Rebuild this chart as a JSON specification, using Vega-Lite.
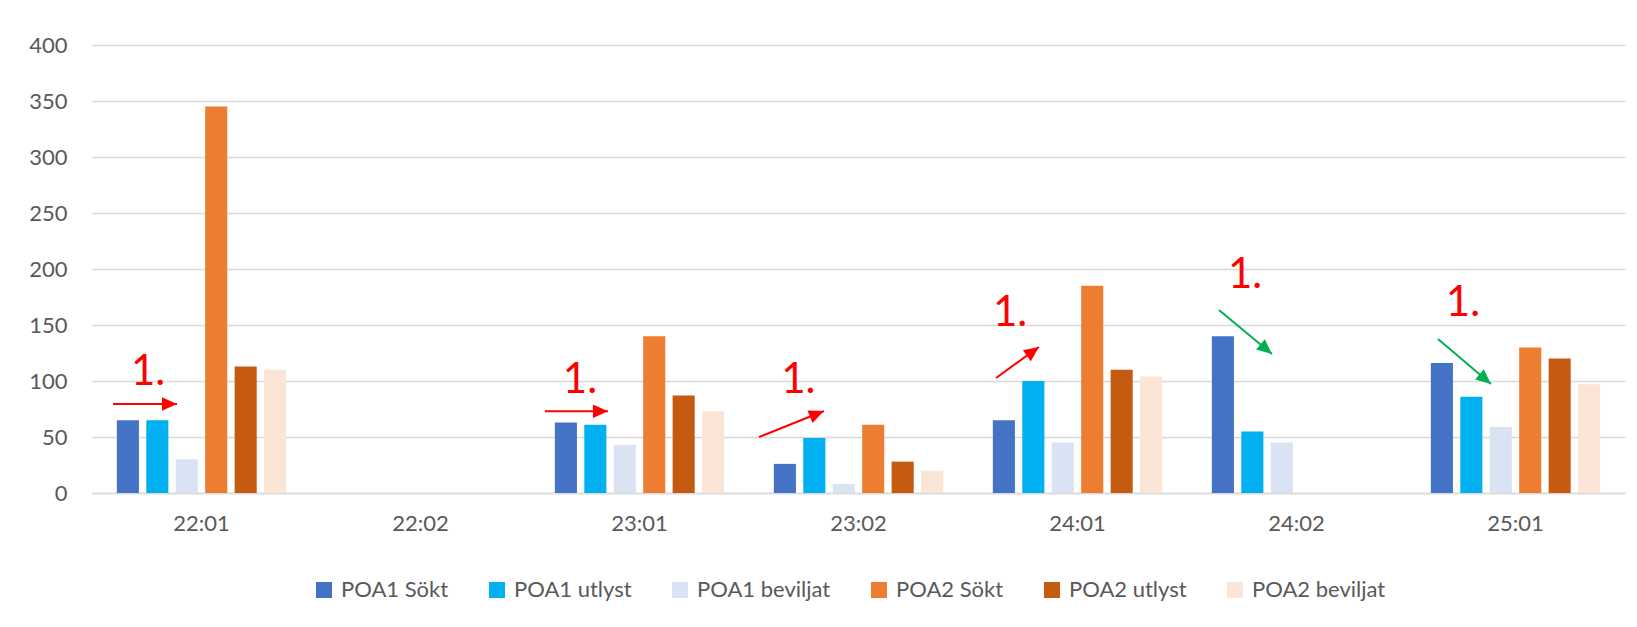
{
  "$schema": "https://vega.github.io/schema/vega-lite/v6.json",
  "width": 1533,
  "height": 448,
  "autosize": {"type": "none"},
  "padding": {"left": 92, "top": 45, "right": 12, "bottom": 134},
  "background": "white",
  "config": {
    "view": {"stroke": null},
    "font": "Lato",
    "axis": {"labelFont": "Lato", "labelFontSize": 22, "labelColor": "#595959", "titleFont": "Lato"},
    "legend": {"labelFont": "Lato"}
  },
  "datasets": {
    "bars": [
      {"period": "22:01", "series": "POA1 Sökt", "value": 65},
      {"period": "22:01", "series": "POA1 utlyst", "value": 65},
      {"period": "22:01", "series": "POA1 beviljat", "value": 30},
      {"period": "22:01", "series": "POA2 Sökt", "value": 345},
      {"period": "22:01", "series": "POA2 utlyst", "value": 113},
      {"period": "22:01", "series": "POA2 beviljat", "value": 110},
      {"period": "23:01", "series": "POA1 Sökt", "value": 63},
      {"period": "23:01", "series": "POA1 utlyst", "value": 61},
      {"period": "23:01", "series": "POA1 beviljat", "value": 43},
      {"period": "23:01", "series": "POA2 Sökt", "value": 140},
      {"period": "23:01", "series": "POA2 utlyst", "value": 87},
      {"period": "23:01", "series": "POA2 beviljat", "value": 73},
      {"period": "23:02", "series": "POA1 Sökt", "value": 26},
      {"period": "23:02", "series": "POA1 utlyst", "value": 49},
      {"period": "23:02", "series": "POA1 beviljat", "value": 8},
      {"period": "23:02", "series": "POA2 Sökt", "value": 61},
      {"period": "23:02", "series": "POA2 utlyst", "value": 28},
      {"period": "23:02", "series": "POA2 beviljat", "value": 20},
      {"period": "24:01", "series": "POA1 Sökt", "value": 65},
      {"period": "24:01", "series": "POA1 utlyst", "value": 100},
      {"period": "24:01", "series": "POA1 beviljat", "value": 45},
      {"period": "24:01", "series": "POA2 Sökt", "value": 185},
      {"period": "24:01", "series": "POA2 utlyst", "value": 110},
      {"period": "24:01", "series": "POA2 beviljat", "value": 104},
      {"period": "24:02", "series": "POA1 Sökt", "value": 140},
      {"period": "24:02", "series": "POA1 utlyst", "value": 55},
      {"period": "24:02", "series": "POA1 beviljat", "value": 45},
      {"period": "25:01", "series": "POA1 Sökt", "value": 116},
      {"period": "25:01", "series": "POA1 utlyst", "value": 86},
      {"period": "25:01", "series": "POA1 beviljat", "value": 59},
      {"period": "25:01", "series": "POA2 Sökt", "value": 130},
      {"period": "25:01", "series": "POA2 utlyst", "value": 120},
      {"period": "25:01", "series": "POA2 beviljat", "value": 97}
    ],
    "notes": [
      {"pos": 0.256, "level": 108, "label": "1."},
      {"pos": 2.228, "level": 101, "label": "1."},
      {"pos": 3.225, "level": 101, "label": "1."},
      {"pos": 4.192, "level": 161, "label": "1."},
      {"pos": 5.265, "level": 195, "label": "1."},
      {"pos": 6.26, "level": 170, "label": "1."}
    ],
    "arrows": [
      {"from": 0.096, "to": 0.388, "start": 79.5, "end": 79.5, "trend": "ökning", "angle": 90},
      {"from": 2.068, "to": 2.356, "start": 73, "end": 73, "trend": "ökning", "angle": 90},
      {"from": 3.046, "to": 3.342, "start": 50, "end": 73.2, "trend": "ökning", "angle": 68},
      {"from": 4.128, "to": 4.324, "start": 102.7, "end": 130.4, "trend": "ökning", "angle": 54},
      {"from": 5.146, "to": 5.388, "start": 163.4, "end": 124.1, "trend": "minskning", "angle": 130},
      {"from": 6.146, "to": 6.388, "start": 137.5, "end": 97.3, "trend": "minskning", "angle": 130}
    ]
  },
  "layer": [
    {
      "data": {"name": "bars"},
      "mark": {"type": "bar"},
      "encoding": {
        "x": {
          "field": "period", "type": "nominal",
          "scale": {"domain": ["22:01", "22:02", "23:01", "23:02", "24:01", "24:02", "25:01"], "paddingInner": 0.2, "paddingOuter": 0.1},
          "axis": {"title": null, "labelAngle": 0, "ticks": false, "domain": true, "domainColor": "#D9D9D9", "domainWidth": 1.5, "labelPadding": 20, "grid": false}
        },
        "xOffset": {
          "field": "series", "type": "nominal",
          "scale": {"domain": ["POA1 Sökt", "POA1 utlyst", "POA1 beviljat", "POA2 Sökt", "POA2 utlyst", "POA2 beviljat"], "paddingInner": 0.25, "paddingOuter": 0.1}
        },
        "y": {
          "field": "value", "type": "quantitative",
          "scale": {"domain": [0, 400], "nice": false},
          "axis": {"title": null, "values": [0, 50, 100, 150, 200, 250, 300, 350, 400], "domain": false, "ticks": false, "grid": true, "gridColor": "#D9D9D9", "gridWidth": 1.5, "labelPadding": 25}
        },
        "color": {
          "field": "series", "type": "nominal",
          "scale": {
            "domain": ["POA1 Sökt", "POA1 utlyst", "POA1 beviljat", "POA2 Sökt", "POA2 utlyst", "POA2 beviljat"],
            "range": ["#4472C4", "#00B0F0", "#DAE3F3", "#ED7D31", "#C55A11", "#FBE5D6"]
          },
          "legend": {
            "title": null, "orient": "none", "legendX": 221, "legendY": 534, "direction": "horizontal",
            "symbolType": "square", "symbolSize": 256, "symbolStrokeWidth": 0, "labelFontSize": 22,
            "labelColor": "#595959", "labelOffset": 6, "columnPadding": 37, "padding": 0, "labelLimit": 300
          }
        }
      }
    },
    {
      "data": {"name": "notes"},
      "mark": {"type": "text", "color": "#FF0000", "fontSize": 42, "font": "Lato", "align": "center", "baseline": "middle"},
      "encoding": {
        "x": {"field": "pos", "type": "quantitative", "scale": {"domain": [0, 7], "nice": false, "zero": false}, "axis": null},
        "y": {"field": "level", "type": "quantitative"},
        "text": {"field": "label"}
      }
    },
    {
      "data": {"name": "arrows"},
      "mark": {"type": "rule", "strokeWidth": 2},
      "encoding": {
        "x": {"field": "from", "type": "quantitative", "scale": {"domain": [0, 7], "nice": false, "zero": false}, "axis": null},
        "x2": {"field": "to"},
        "y": {"field": "start", "type": "quantitative"},
        "y2": {"field": "end"},
        "stroke": {"field": "trend", "type": "nominal", "scale": {"domain": ["ökning", "minskning"], "range": ["#FF0000", "#00B050"]}, "legend": null}
      }
    },
    {
      "data": {"name": "arrows"},
      "mark": {"type": "point", "shape": "M0,0L-0.45,1L0.45,1Z", "size": 900, "filled": true, "opacity": 1, "strokeWidth": 0},
      "encoding": {
        "x": {"field": "to", "type": "quantitative", "scale": {"domain": [0, 7], "nice": false, "zero": false}, "axis": null},
        "y": {"field": "end", "type": "quantitative"},
        "angle": {"field": "angle", "type": "quantitative", "scale": null},
        "fill": {"field": "trend", "type": "nominal", "scale": {"domain": ["ökning", "minskning"], "range": ["#FF0000", "#00B050"]}, "legend": null}
      }
    }
  ],
  "resolve": {"scale": {"x": "independent"}}
}
